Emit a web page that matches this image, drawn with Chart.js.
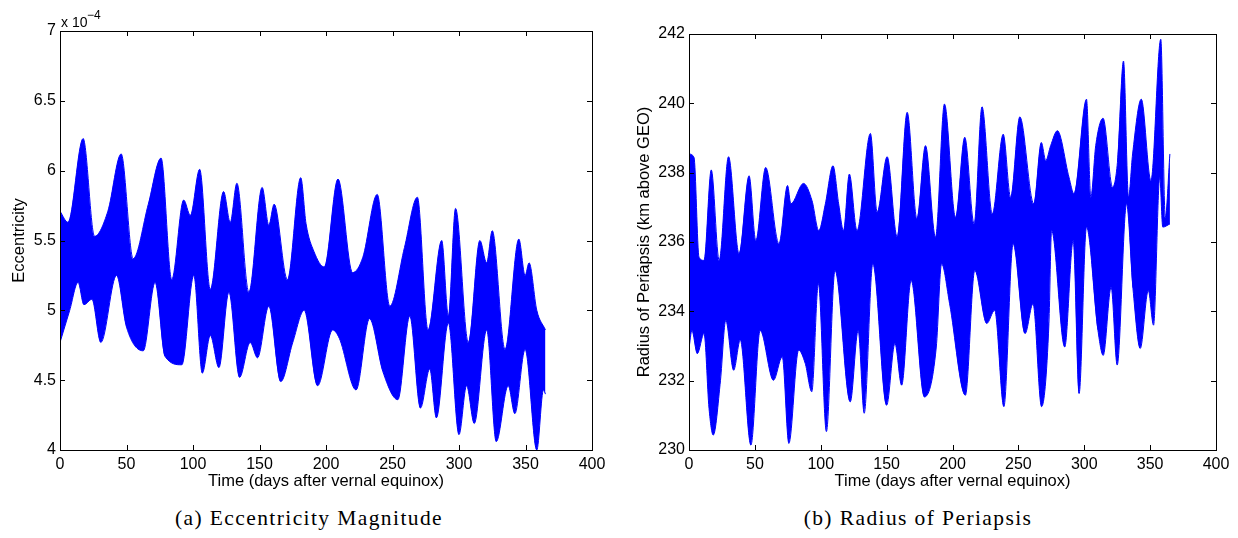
<!DOCTYPE html>
<html>
<head>
<meta charset="utf-8">
<script src="https://cdn.jsdelivr.net/npm/chart.js@4.4.0/dist/chart.umd.min.js"></script>
<style>
  html, body { margin: 0; padding: 0; background: #fff; }
  #wrap { position: relative; width: 1238px; height: 538px; overflow: hidden; background: #fff; }
  #wrap canvas { position: absolute; top: 0; }
  .cap {
    position: absolute; top: 506px; transform: translateX(-50%);
    font-family: "Liberation Serif", serif; font-size: 21.5px; letter-spacing: 1.4px;
    white-space: nowrap; color: #000;
  }
</style>
</head>
<body>
<div id="wrap">
  <canvas id="ecc" width="620" height="500" style="left:0px"></canvas>
  <canvas id="rad" width="618" height="500" style="left:620px"></canvas>
  <div class="cap" style="left:309px">(a) Eccentricity Magnitude</div>
  <div class="cap" style="left:918px">(b) Radius of Periapsis</div>
</div>
<script>
// Tick labels
const dayTicks = [0, 50, 100, 150, 200, 250, 300, 350, 400];
const eccTicks = [4, 4.5, 5, 5.5, 6, 6.5, 7];
const radTicks = [230, 232, 234, 236, 238, 240, 242];

// Eccentricity magnitude (units of 1e-4): upper and lower edges of the daily oscillation
const eccUpperDays = [0, 6, 17.4, 26, 36, 46, 55, 66.4, 76, 84, 93, 98, 105, 113, 123, 128, 133, 142, 152, 157,
  161, 171, 181, 185, 191, 198.7, 209, 220, 227.7, 238.5, 248, 259, 268.7, 276.7, 287, 292, 297.4, 307, 315.7, 320.8,
  325, 334.6, 345, 349.7, 352.7, 358.5, 365];
const eccUpper = [5.71, 5.63, 6.23, 5.53, 5.71, 6.12, 5.37, 5.76, 6.09, 5.22, 5.79, 5.68, 6.01, 5.15, 5.85, 5.63, 5.91, 5.13, 5.88, 5.61,
  5.76, 5.22, 5.95, 5.62, 5.42, 5.31, 5.94, 5.27, 5.38, 5.83, 5.03, 5.45, 5.81, 4.86, 5.50, 4.96, 5.73, 4.77, 5.50, 5.34,
  5.57, 4.72, 5.51, 5.25, 5.34, 5.00, 4.86];
const eccLowerDays = [0, 7.3, 13.6, 18, 24, 30.7, 42.5, 50, 62.6, 71.5, 79, 91.6, 100.6, 107, 113, 119.5, 127, 135, 143, 148.5,
  157, 166, 175, 183.6, 193.7, 205, 210, 222.6, 232.7, 242.8, 254, 263, 271, 278, 283, 292, 300, 305.7, 311.5, 320.8,
  328, 337, 342, 349.7, 358.5, 363.5, 365];
const eccLower = [4.77, 5.00, 5.20, 5.04, 5.08, 4.77, 5.25, 4.88, 4.71, 5.20, 4.67, 4.61, 5.25, 4.55, 4.82, 4.59, 5.13, 4.52, 4.77, 4.66,
  5.03, 4.49, 4.77, 5.00, 4.46, 4.86, 4.80, 4.43, 4.94, 4.56, 4.36, 4.96, 4.30, 4.58, 4.23, 4.91, 4.11, 4.46, 4.19, 4.86,
  4.06, 4.46, 4.26, 4.72, 4.00, 4.43, 4.40];

// Radius of periapsis (km above GEO): upper and lower edges of the daily oscillation
const radUpperDays = [0, 3.8, 7.6, 11.4, 16.9, 22.9, 30.0, 38.0, 45.6, 50.7, 58.2, 68.3, 74.8, 77.3, 86.9, 93.4, 98.5, 103.5, 109.3, 113.6,
  117.3, 121.7, 127.5, 137.7, 142.8, 150.4, 158.0, 165.6, 173.0, 179.5, 187.1, 193.9, 202.3, 209.3, 216.4, 222.4, 230.2, 238.5, 244.1, 251.1,
  261.7, 267.4, 270.8, 274.5, 279.6, 288.4, 292.2, 301.7, 305.0, 308.7, 314.3, 321.5, 325.2, 329.8, 333.6, 336.7, 343.3, 350.6, 358.1, 361.5,
  365.0];
const radUpper = [238.54, 238.44, 235.56, 235.47, 238.08, 235.47, 238.46, 235.66, 237.91, 236.04, 238.15, 235.95, 237.63, 237.1, 237.69, 237.19, 236.33, 237.1, 238.2, 237.1,
  236.33, 237.96, 236.33, 239.13, 236.86, 238.46, 236.14, 239.74, 236.67, 238.78, 236.14, 239.98, 236.71, 239.02, 236.52, 239.9, 236.81, 239.11, 237.29, 239.61,
  237.1, 238.87, 238.35, 238.78, 239.21, 237.87, 237.39, 240.12, 237.29, 238.78, 239.57, 237.58, 238.3, 241.22, 237.29, 238.54, 240.12, 237.77, 241.85, 236.71,
  238.54];
const radLowerDays = [0, 2.2, 6.3, 11.4, 15.2, 18.4, 23.9, 27.9, 33.9, 38.9, 47.0, 54.0, 64.1, 70.8, 75.8, 83.2, 88.2, 93.2, 98.2, 104.3,
  110.8, 122.4, 128.4, 133.0, 139.5, 150.0, 156.3, 161.4, 168.6, 178.7, 187.7, 191.7, 197.8, 209.8, 216.9, 226.0, 232.0, 239.0, 246.0, 255.1,
  261.1, 267.6, 273.2, 275.2, 285.2, 291.6, 296.1, 301.7, 310.4, 314.4, 320.4, 325.0, 332.1, 337.0, 342.5, 348.6, 352.6, 357.3, 359.6, 365.0];
const radLower = [232.93, 233.45, 232.78, 233.36, 231.2, 230.43, 232.01, 233.74, 232.3, 233.17, 230.14, 233.45, 232.01, 232.69, 230.19, 232.88, 232.5, 231.68, 234.8, 230.53,
  235.18, 231.39, 233.45, 231.06, 235.37, 231.29, 233.07, 231.87, 234.89, 231.53, 232.97, 235.37, 234.22, 231.58, 235.18, 233.65, 234.03, 231.25, 235.95, 233.36,
  234.22, 231.25, 233.65, 236.33, 232.97, 236.04, 231.63, 236.43, 233.45, 232.73, 234.7, 232.45, 237.1, 234.65, 232.93, 234.6, 233.6, 237.87, 236.43, 236.52];

const BLUE = '#0000ff';
const SANS = '"Liberation Sans", Arial, Helvetica, sans-serif';

const toPoints = (xs, ys) => xs.map((x, i) => ({ x: x, y: ys[i] }));

// Axes box with inward tick marks on all four sides, plus axis titles
const framePlugin = {
  id: 'frame',
  afterDatasetsDraw(chart, args, opts) {
    const { ctx, chartArea: a } = chart;
    const sx = chart.scales.x, sy = chart.scales.y;
    const tl = 5;
    ctx.save();
    ctx.strokeStyle = '#000';
    ctx.lineWidth = 1;
    ctx.beginPath();
    sx.ticks.forEach(t => {
      const px = Math.round(sx.getPixelForValue(t.value)) + 0.5;
      ctx.moveTo(px, a.bottom); ctx.lineTo(px, a.bottom - tl);
      ctx.moveTo(px, a.top); ctx.lineTo(px, a.top + tl);
    });
    sy.ticks.forEach(t => {
      const py = Math.round(sy.getPixelForValue(t.value)) + 0.5;
      ctx.moveTo(a.left, py); ctx.lineTo(a.left + tl, py);
      ctx.moveTo(a.right, py); ctx.lineTo(a.right - tl, py);
    });
    ctx.stroke();
    ctx.strokeRect(Math.round(a.left) + 0.5, Math.round(a.top) + 0.5,
                   Math.round(a.right - a.left), Math.round(a.bottom - a.top));

    ctx.fillStyle = '#000';
    ctx.font = '16.5px ' + SANS;
    ctx.textAlign = 'center';
    ctx.textBaseline = 'alphabetic';
    ctx.fillText(opts.xTitle, (a.left + a.right) / 2, a.bottom + 36);

    ctx.save();
    ctx.translate(opts.yTitleX, (a.top + a.bottom) / 2);
    ctx.rotate(-Math.PI / 2);
    ctx.fillText(opts.yTitle, 0, 0);
    ctx.restore();

    if (opts.exponent) {
      ctx.textAlign = 'left';
      ctx.font = '14px ' + SANS;
      ctx.fillText('x 10', a.left + 1, a.top - 4);
      ctx.font = '12px ' + SANS;
      ctx.fillText('\u22124', a.left + 27, a.top - 12);
    }
    ctx.restore();
  }
};

function makeChart(id, cfg) {
  const band = {
    borderColor: BLUE, backgroundColor: BLUE, borderWidth: 1, pointRadius: 0,
    cubicInterpolationMode: 'monotone'
  };
  return new Chart(document.getElementById(id), {
    type: 'line',
    data: {
      datasets: [
        Object.assign({ data: toPoints(cfg.upDays, cfg.up), fill: '+1' }, band),
        Object.assign({ data: toPoints(cfg.loDays, cfg.lo), fill: false }, band)
      ]
    },
    options: {
      responsive: false,
      animation: false,
      devicePixelRatio: 1,
      layout: { padding: { top: cfg.top, right: cfg.right, left: 0, bottom: 0 } },
      plugins: {
        legend: { display: false },
        tooltip: { enabled: false },
        frame: { xTitle: 'Time (days after vernal equinox)', yTitle: cfg.yTitle,
                 yTitleX: cfg.yTitleX, exponent: cfg.exponent }
      },
      scales: {
        x: {
          type: 'linear', min: 0, max: 400,
          afterBuildTicks: s => { s.ticks = dayTicks.map(v => ({ value: v })); },
          afterFit: s => { s.height = 500 - 450; },
          grid: { display: false, drawTicks: false },
          border: { display: false },
          ticks: { color: '#000', font: { family: SANS, size: 16 }, padding: 5,
                   maxRotation: 0, autoSkip: false, callback: v => String(v) }
        },
        y: {
          type: 'linear', min: cfg.ticks[0], max: cfg.ticks[cfg.ticks.length - 1],
          afterBuildTicks: s => { s.ticks = cfg.ticks.map(v => ({ value: v })); },
          afterFit: s => { s.width = cfg.left; },
          grid: { display: false, drawTicks: false },
          border: { display: false },
          ticks: { color: '#000', font: { family: SANS, size: 16 }, padding: 4,
                   autoSkip: false, callback: v => String(v) }
        }
      }
    },
    plugins: [framePlugin]
  });
}

makeChart('ecc', {
  upDays: eccUpperDays, up: eccUpper, loDays: eccLowerDays, lo: eccLower,
  ticks: eccTicks, left: 60, right: 620 - 592, top: 31,
  yTitle: 'Eccentricity', yTitleX: 24, exponent: true
});

makeChart('rad', {
  upDays: radUpperDays, up: radUpper, loDays: radLowerDays, lo: radLower,
  ticks: radTicks, left: 69, right: 618 - 596, top: 34,
  yTitle: 'Radius of Periapsis (km above GEO)', yTitleX: 29, exponent: false
});
</script>
</body>
</html>
